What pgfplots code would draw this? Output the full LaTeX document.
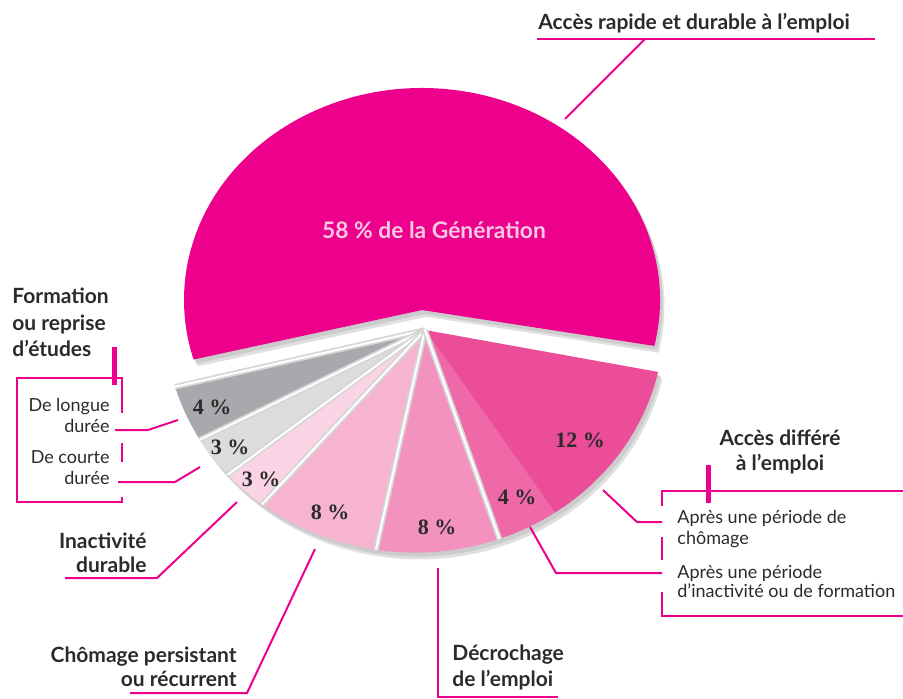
\documentclass[border=0pt]{standalone}
\usepackage{pgfplots}
\pgfplotsset{compat=1.18}
\usepackage{pgfplotstable}
\usepackage{fontspec}
\setmainfont{Lato}
\newfontfamily\pctfont{Liberation Serif}

\definecolor{cMain}{HTML}{EC008C}
\definecolor{cAccB}{HTML}{EC4D98}
\definecolor{cAccA}{HTML}{EF68A8}
\definecolor{cDecro}{HTML}{F392BE}
\definecolor{cChom}{HTML}{F6B4D0}
\definecolor{cInact}{HTML}{FAD4E4}
\definecolor{cCourt}{HTML}{DCDCDD}
\definecolor{cLong}{HTML}{A7A9AC}
\definecolor{txt}{HTML}{2B2B2B}
\definecolor{lbl58}{HTML}{F7C8E1}

% share of the generation (%), colour, apex, ellipse centre and radii (px), label position
\pgfplotstableread{
name    pct  col     ax   ay   ex     ey   rx     ry     lx   ly   edge
main    58   cMain   422  310  422    300  238    212    434  230  0
longue  4    cLong   425  330  414.5  322  249.5  230.6  212  407  1
courte  3    cCourt  425  330  414.5  322  249.5  230.6  230  447  1
inact   3    cInact  425  330  414.5  322  249.5  230.6  261  479  1
chom    8    cChom   425  330  414.5  322  249.5  230.6  330  512  1
decro   8    cDecro  425  330  414.5  322  249.5  230.6  437  527  1
acc4    4    cAccA   425  330  414.5  322  249.5  230.6  517  497  1
acc12   12   cAccB   425  330  414.5  322  249.5  230.6  580  440  0
}\piedata

\newcommand\getrow[1]{%
  \pgfplotstablegetelem{#1}{pct}\of\piedata\edef\vP{\pgfplotsretval}%
  \pgfplotstablegetelem{#1}{col}\of\piedata\edef\vC{\pgfplotsretval}%
  \pgfplotstablegetelem{#1}{ax}\of\piedata\edef\vax{\pgfplotsretval}%
  \pgfplotstablegetelem{#1}{ay}\of\piedata\edef\vay{\pgfplotsretval}%
  \pgfplotstablegetelem{#1}{ex}\of\piedata\edef\vex{\pgfplotsretval}%
  \pgfplotstablegetelem{#1}{ey}\of\piedata\edef\vey{\pgfplotsretval}%
  \pgfplotstablegetelem{#1}{rx}\of\piedata\edef\vrx{\pgfplotsretval}%
  \pgfplotstablegetelem{#1}{ry}\of\piedata\edef\vry{\pgfplotsretval}%
  \pgfplotstablegetelem{#1}{lx}\of\piedata\edef\vlx{\pgfplotsretval}%
  \pgfplotstablegetelem{#1}{ly}\of\piedata\edef\vly{\pgfplotsretval}%
  \pgfplotstablegetelem{#1}{edge}\of\piedata\edef\vE{\pgfplotsretval}%
}

\newcommand\drawpass[1]{%
  \gdef\cum{0}%
  \pgfplotsforeachungrouped \i in {0,...,7}{%
    \getrow{\i}%
    \pgfmathsetmacro\aS{-12.5+3.6*\cum}%
    \pgfmathsetmacro\aE{\aS+3.6*\vP}%
    \pgfmathsetmacro\sx{\vex+\vrx*cos(\aS)}%
    \pgfmathsetmacro\sy{\vey-\vry*sin(\aS)}%
    \pgfmathsetmacro\rxp{0.5*\vrx}%
    \pgfmathsetmacro\ryp{0.5*\vry}%
    \edef\slice{(axis cs:\vax,\vay) -- (axis cs:\sx,\sy) arc[start angle=\aS, end angle=\aE, x radius=\rxp pt, y radius=\ryp pt] -- cycle}%
    \ifcase#1\or
      \edef\temp{\noexpand\fill[black!12, xshift=2.2pt, yshift=-3.4pt] \slice; \noexpand\fill[black!20, xshift=1.3pt, yshift=-2pt] \slice;}%
    \or
      \edef\temp{\noexpand\fill[\vC] \slice;}%
    \or
      \ifnum\vE=1
        \edef\temp{\noexpand\draw[black!16, line width=2.8pt] (axis cs:\vax,\vay) -- (axis cs:\sx,\sy); \noexpand\draw[white, line width=1pt] (axis cs:\vax,\vay) -- (axis cs:\sx,\sy);}%
      \else \def\temp{}\fi
    \or
      \ifnum\i>0
        \edef\temp{\noexpand\node[pctlbl] at (axis cs:\vlx,\vly) {\vP\noexpand~\noexpand\%};}%
      \else
        \edef\temp{\noexpand\node[mainlbl] at (axis cs:\vlx,\vly) {\vP\noexpand~\noexpand\% de la Génération};}%
      \fi
    \fi
    \temp
    \pgfmathsetmacro\newcum{\cum+\vP}\global\let\cum\newcum
  }%
}

\tikzset{
  pctlbl/.style={font=\pctfont\bfseries\fontsize{11}{13}\selectfont, text=txt, anchor=center, inner sep=0pt},
  mainlbl/.style={font=\bfseries\fontsize{11.4}{13}\selectfont, text=lbl58, anchor=center, inner sep=0pt},
  bl/.style={font=\bfseries\fontsize{10.5}{12}\selectfont, text=txt, inner sep=0pt},
  rl/.style={font=\fontsize{9}{11}\selectfont, text=txt, inner sep=0pt},
  ml/.style={draw=cMain, line width=1pt},
  mb/.style={draw=cMain, line width=1.25pt},
}

\begin{document}
\begin{tikzpicture}
\begin{axis}[name=ax, hide axis, x=0.5pt, y=0.5pt, y dir=reverse,
  xmin=0, xmax=903, ymin=0, ymax=698, clip=false]
\drawpass{1}
\drawpass{2}
\drawpass{3}
\drawpass{4}

% top label
\node[bl, anchor=base west] at (axis cs:538,29) {Accès rapide et durable à l’emploi};
\draw[mb, line width=1.4pt] (axis cs:537,39) -- (axis cs:875,39);
\draw[ml] (axis cs:645,39) -- (axis cs:565,119);

% left group
\node[bl, anchor=base west] at (axis cs:12,303) {Formation};
\node[bl, anchor=base west] at (axis cs:12,330) {ou reprise};
\node[bl, anchor=base west] at (axis cs:12,356) {d’études};
\draw[cMain, line width=2.5pt] (axis cs:114,347) -- (axis cs:114,385);
\draw[mb] (axis cs:122,413) -- (axis cs:122,378) -- (axis cs:17,378) -- (axis cs:17,502) -- (axis cs:122,502) -- (axis cs:122,497);
\draw[mb] (axis cs:122,443) -- (axis cs:122,462);
\node[rl, anchor=base east] at (axis cs:110,411) {De longue};
\node[rl, anchor=base east] at (axis cs:110,432) {durée};
\node[rl, anchor=base east] at (axis cs:110,463) {De courte};
\node[rl, anchor=base east] at (axis cs:110,484) {durée};
\draw[ml] (axis cs:115,430) -- (axis cs:148,430) -- (axis cs:178,420);
\draw[ml] (axis cs:118,482) -- (axis cs:175,482) -- (axis cs:200,467);

% bottom-left labels
\node[bl, anchor=base east] at (axis cs:147,548) {Inactivité};
\node[bl, anchor=base east] at (axis cs:147,572) {durable};
\draw[ml] (axis cs:65,578) -- (axis cs:157,578) -- (axis cs:237,502);
\node[bl, anchor=base east] at (axis cs:237,662) {Chômage persistant};
\node[bl, anchor=base east] at (axis cs:237,686) {ou récurrent};
\draw[ml] (axis cs:130,693) -- (axis cs:247,693) -- (axis cs:315,549);

% bottom middle
\node[bl, anchor=base west] at (axis cs:452,660) {Décrochage};
\node[bl, anchor=base west] at (axis cs:452,686) {de l’emploi};
\draw[ml] (axis cs:438,568) -- (axis cs:438,697) -- (axis cs:558,697);

% right group
\node[bl, anchor=base] at (axis cs:780,445) {Accès différé};
\node[bl, anchor=base] at (axis cs:780,470) {à l’emploi};
\draw[cMain, line width=2.5pt] (axis cs:708,465) -- (axis cs:708,503);
\draw[mb] (axis cs:903,491) -- (axis cs:662,491) -- (axis cs:662,506);
\draw[mb] (axis cs:662,537) -- (axis cs:662,560);
\draw[mb] (axis cs:662,592) -- (axis cs:662,616) -- (axis cs:903,616);
\node[rl, anchor=base west] at (axis cs:677,523) {Après une période de};
\node[rl, anchor=base west] at (axis cs:677,544) {chômage};
\node[rl, anchor=base west] at (axis cs:677,578) {Après une période};
\node[rl, anchor=base west] at (axis cs:677,597) {d’inactivité ou de formation};
\draw[ml] (axis cs:662,522) -- (axis cs:637,522) -- (axis cs:603,490);
\draw[ml] (axis cs:662,573) -- (axis cs:556,573) -- (axis cs:530,527);
\end{axis}
\pgfresetboundingbox
\path (ax.south west) rectangle (ax.north east);
\end{tikzpicture}
\end{document}
